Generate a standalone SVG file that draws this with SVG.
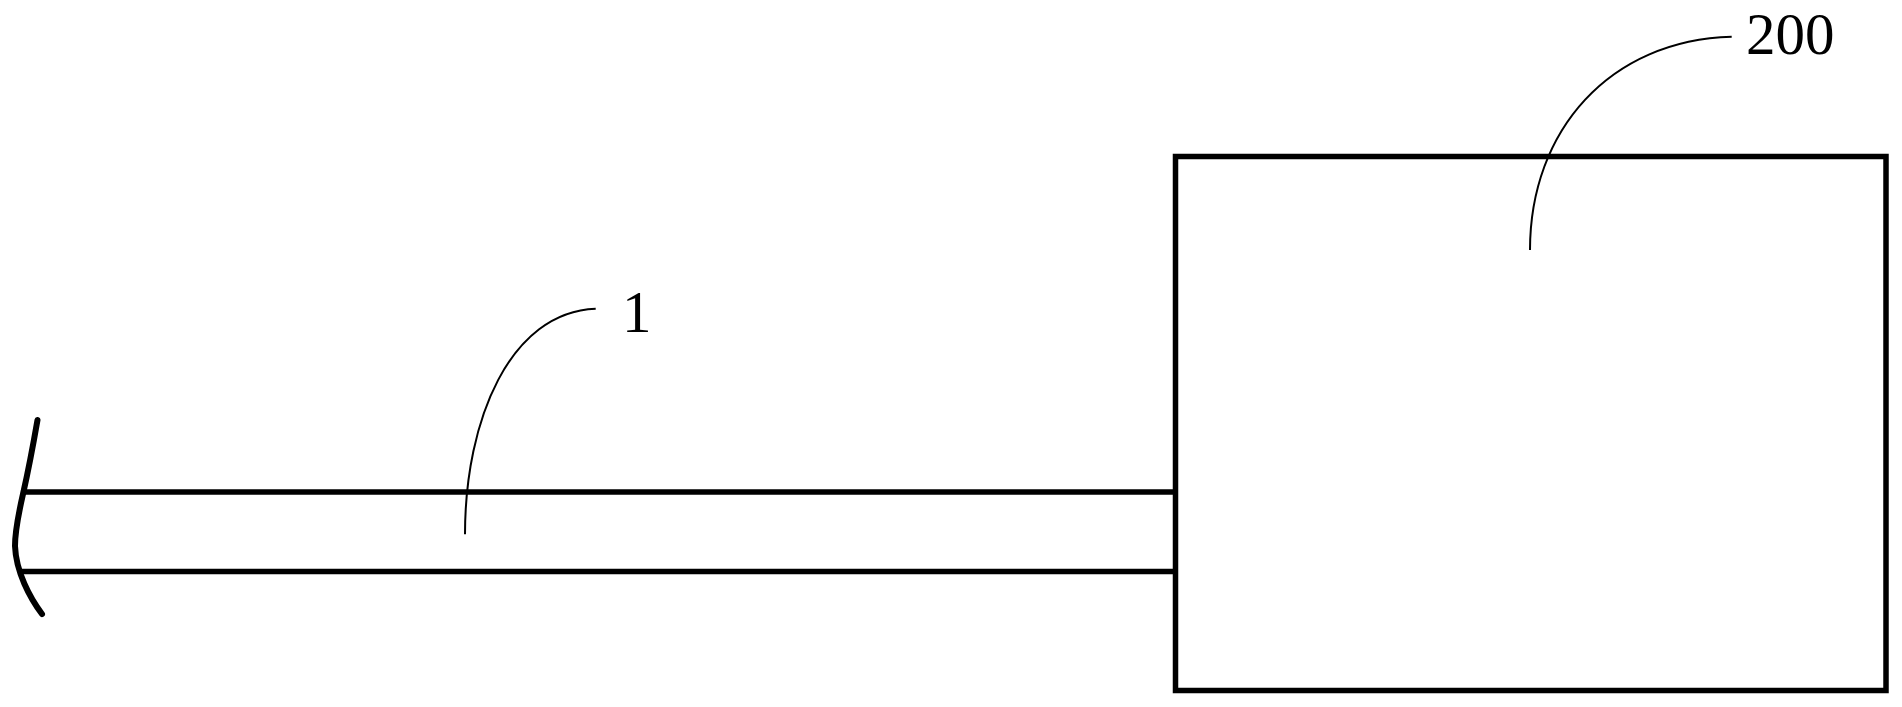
<svg xmlns="http://www.w3.org/2000/svg" width="1902" height="707" viewBox="0 0 1902 707">
<style>
.thick{fill:none;stroke:#000;stroke-width:5.5}
.leader{fill:none;stroke:#000;stroke-width:2}
.label{font-family:"Liberation Serif","Times New Roman",serif;font-size:59px;fill:#000}
</style>
<rect width="1902" height="707" fill="#fff"/>
<g id="box-200"><rect class="thick" x="1175.500" y="156.500" width="710.500" height="534"/></g>
<g id="rod-1">
<path class="thick" d="M24 492H1178M20 571.500H1178"/>
<path class="thick" stroke-linecap="round" style="stroke-width:6" d="M37.500 420C33 446 28 472 23 494C18 516 15 532 15 546C16 572 30 598 42 614"/>
</g>
<g id="connectors">
<path class="leader" d="M1731.700 36.700C1610 40 1530 130 1530 250"/>
<path class="leader" d="M595.700 308.700C510 312 465 420 465 534.300"/>
</g>
<g id="label-200"><text class="label" x="1746" y="53.500">200</text></g>
<g id="label-1"><text class="label" x="622" y="332">1</text></g>
</svg>
